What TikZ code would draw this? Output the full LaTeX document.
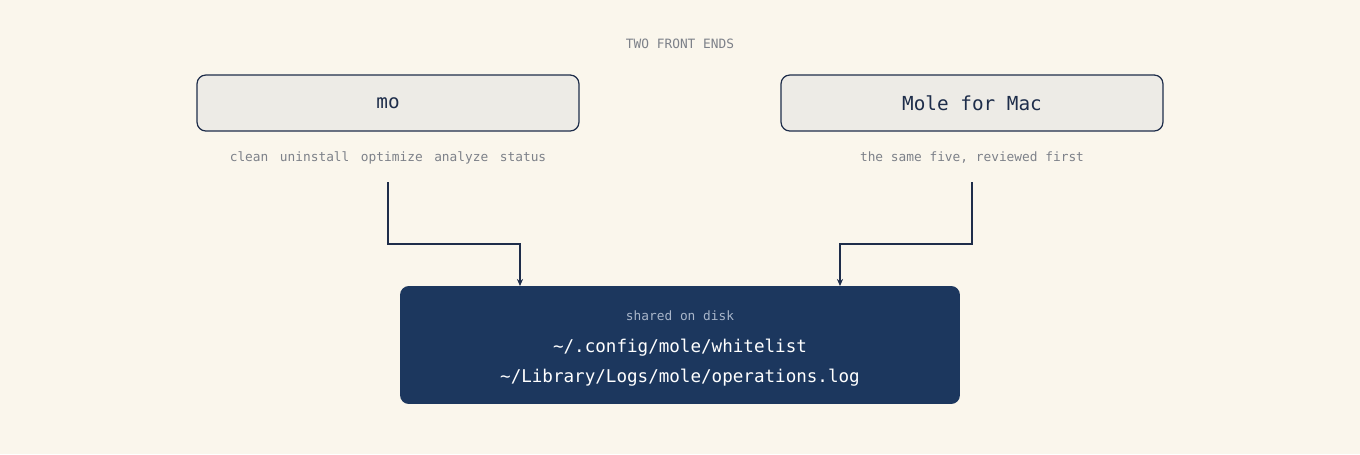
\documentclass[tikz,border=0pt]{standalone}
\usepackage{fontspec}
\setmonofont{DejaVu Sans Mono}
\usetikzlibrary{positioning,arrows.meta}
\definecolor{paper}{HTML}{FAF6EC}
\definecolor{navy}{HTML}{1C375E}
\definecolor{ink}{HTML}{1E2D4A}
\definecolor{boxfill}{HTML}{EDEBE6}
\definecolor{muted}{HTML}{7D8189}
\definecolor{pale}{HTML}{A9B6CA}
\begin{document}
\begin{tikzpicture}[x=0.02cm,y=-0.02cm,font=\ttfamily,
    front/.style = {draw=ink, fill=boxfill, rounded corners=5pt, line width=0.7pt,
                    minimum width=7.64cm, minimum height=1.12cm, text=ink, font=\ttfamily\fontsize{11}{13}\selectfont},
    note/.style = {text=muted, font=\ttfamily\fontsize{7.3}{9}\selectfont},
    link/.style = {draw=ink, line width=0.7pt, -{Stealth[length=4pt,width=3.5pt]}}]
    \fill[paper] (0,0) rectangle (1360,454);
    \node[note] (title) at (680,44) {TWO FRONT ENDS};
    \node[front] (mo)   at (388,103) {mo};
    \node[front] (mac)  at (972,103) {Mole for Mac};
    \node[note] (cmds)  at (388,158) {clean\hspace{0.9em}uninstall\hspace{0.9em}optimize\hspace{0.9em}analyze\hspace{0.9em}status};
    \node[note] (same)  at (972,158) {the same five, reviewed first};
    \node[fill=navy, rounded corners=5pt, minimum width=11.2cm, minimum height=2.36cm] (disk) at (680,345) {};
    \node[text=pale, font=\ttfamily\fontsize{7.3}{9}\selectfont] (shared) at (680,316) {shared on disk};
    \node[text=white, font=\ttfamily\fontsize{10}{12}\selectfont] (cfg) at (680,348) {\string~/.config/mole/whitelist};
    \node[text=white, font=\ttfamily\fontsize{10}{12}\selectfont] (log) at (680,378) {\string~/Library/Logs/mole/operations.log};
    \coordinate (a) at (388,182);
    \coordinate (b) at (972,182);
    \coordinate (ain) at (520,286);
    \coordinate (bin) at (840,286);
    \draw[link] (a) |- (520,244) -- (ain);
    \draw[link] (b) |- (840,244) -- (bin);
\end{tikzpicture}
\end{document}
